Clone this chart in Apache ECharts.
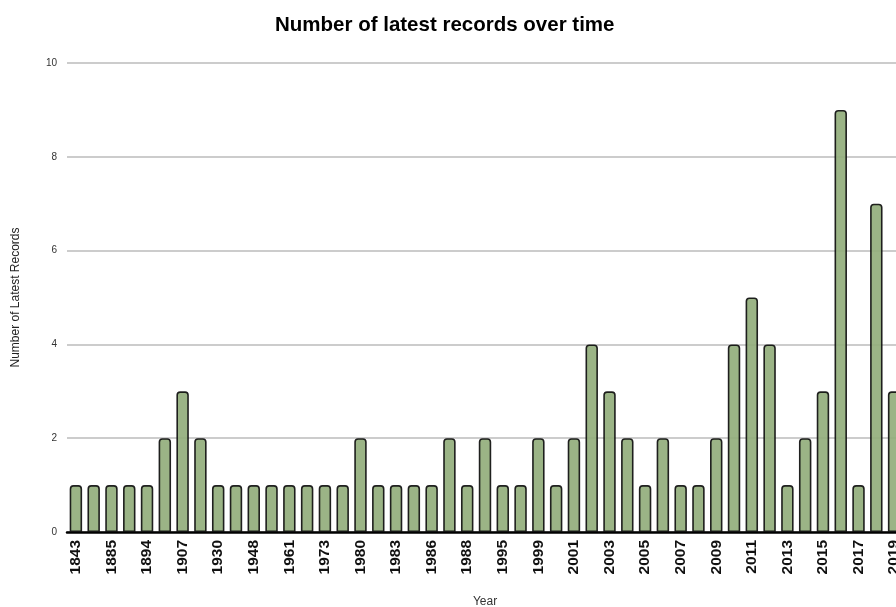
<!DOCTYPE html>
<html>
<head>
<meta charset="utf-8">
<script src="https://cdn.jsdelivr.net/npm/echarts@6/dist/echarts.min.js"></script>
<style>
  html, body { margin: 0; padding: 0; overflow: hidden; background: #fff; }
  #chart { width: 910px; height: 607px; }
</style>
</head>
<body>
<div id="chart"></div>
<script>
// Years with their latest-record counts
const years = [
  '1843', '1850', '1885', '1889', '1894', '1900', '1907', '1920', '1930', '1940',
  '1948', '1955', '1961', '1968', '1973', '1976', '1980', '1981', '1983', '1985',
  '1986', '1987', '1988', '1990', '1995', '1997', '1999', '2000', '2001', '2002',
  '2003', '2004', '2005', '2006', '2007', '2008', '2009', '2010', '2011', '2012',
  '2013', '2014', '2015', '2016', '2017', '2018', '2019'
];
const records = [
  1, 1, 1, 1, 1, 2, 3, 2, 1, 1,
  1, 1, 1, 1, 1, 1, 2, 1, 1, 1,
  1, 2, 1, 2, 1, 1, 2, 1, 2, 4,
  3, 2, 1, 2, 1, 1, 2, 4, 5, 4,
  1, 2, 3, 9, 1, 7, 3
];
const yTicks = [0, 2, 4, 6, 8, 10];

const chart = echarts.init(document.getElementById('chart'));
const font = 'Liberation Sans, Arial, sans-serif';

chart.setOption({
  animation: false,
  title: {
    text: 'Number of latest records over time',
    left: 270,
    top: 10,
    textStyle: { fontFamily: font, fontSize: 20.5, fontWeight: 'bold', color: '#000' }
  },
  grid: { left: 67, right: 7, top: 63, bottom: 75, containLabel: false, outerBoundsMode: 'none' },
  xAxis: {
    type: 'category',
    data: years,
    name: 'Year',
    nameLocation: 'middle',
    nameGap: 64,
    nameTextStyle: { fontFamily: font, fontSize: 12, color: '#333' },
    axisLine: { lineStyle: { color: '#000', width: 2.5 } },
    axisTick: { show: false },
    axisLabel: {
      interval: 1,
      rotate: 90,
      margin: 8,
      fontFamily: font,
      fontSize: 15.5,
      fontWeight: 'bold',
      color: '#111'
    }
  },
  yAxis: {
    type: 'value',
    min: yTicks[0],
    max: yTicks[yTicks.length - 1],
    interval: 2,
    name: 'Number of Latest Records',
    nameLocation: 'middle',
    nameGap: 45,
    nameTextStyle: { fontFamily: font, fontSize: 12, color: '#222' },
    axisLine: { show: false },
    axisTick: { show: false },
    axisLabel: { fontFamily: font, fontSize: 10, color: '#333', margin: 10 },
    splitLine: { lineStyle: { color: '#bbb', width: 1.5 } }
  },
  series: [{
    type: 'bar',
    data: records,
    barWidth: '70%',
    itemStyle: {
      color: '#93ae7d',
      opacity: 0.93,
      borderColor: '#111',
      borderWidth: 1.6,
      borderRadius: [3, 3, 0, 0]
    }
  }]
});
</script>
</body>
</html>
